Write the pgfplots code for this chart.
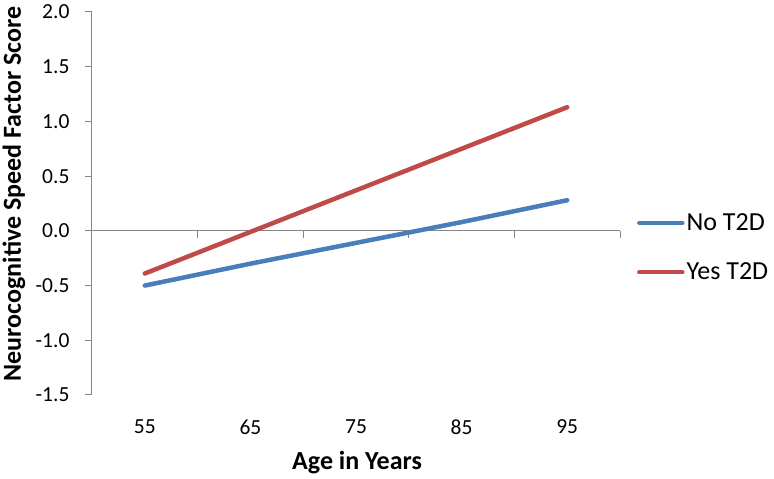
\documentclass[border=0pt]{standalone}
\usepackage{pgfplots}
\pgfplotsset{compat=1.18}
\usepackage{fontspec}
\setmainfont{Carlito}
\definecolor{sblue}{RGB}{74,126,187}
\definecolor{sred}{RGB}{190,75,72}
\definecolor{axgray}{RGB}{134,134,134}
\begin{document}
\begin{tikzpicture}
\path[use as bounding box] (-92pt,-84pt) rectangle (682pt,395pt);
\begin{axis}[
  scale only axis,
  width=528pt, height=383pt,
  xmin=50, xmax=100, ymin=-1.5, ymax=2.0,
  axis y line*=left,
  axis x line*=bottom,
  x axis line style={draw=none},
  y axis line style={axgray, line width=1pt},
  xtick={55,65,75,85,95},
  xticklabels={55,65,75,85,95},
  xtick style={draw=none},
  ytick={-1.5,-1.0,-0.5,0,0.5,1.0,1.5,2.0},
  yticklabels={-1.5,-1.0,-0.5,0.0,0.5,1.0,1.5,2.0},
  ytick style={axgray, line width=1pt},
  tick align=outside,
  major tick length=7pt,
  tick label style={font=\fontsize{21.5}{25}\selectfont, black},
  yticklabel style={xshift=-12pt},
  xticklabel style={yshift=-14pt},
  xlabel={\textbf{Age in Years}},
  ylabel={\textbf{Neurocognitive Speed Factor Score}},
  label style={font=\fontsize{26}{30}\selectfont},
  xlabel style={at={(axis description cs:0.502,-0.1775)}, anchor=center},
  ylabel style={at={(axis description cs:-0.1477,0.525)}, anchor=center, rotate=0},
  clip=false,
  legend style={at={(axis description cs:1.032,0.385)}, anchor=west, draw=none, fill=none,
    font=\fontsize{26}{30}\selectfont, inner sep=0pt, row sep=27pt,
    nodes={inner sep=2pt}},
  legend cell align=left,
  legend image code/.code={\draw[#1] (0pt,0pt) -- (43pt,0pt);},
]
\draw[axgray, line width=1pt] (axis cs:50,0) -- (axis cs:100,0);
\draw[axgray, line width=1pt] (axis cs:60,0) -- ++(0pt,-7pt);
\draw[axgray, line width=1pt] (axis cs:70,0) -- ++(0pt,-7pt);
\draw[axgray, line width=1pt] (axis cs:80,0) -- ++(0pt,-7pt);
\draw[axgray, line width=1pt] (axis cs:90,0) -- ++(0pt,-7pt);
\draw[axgray, line width=1pt] (axis cs:100,0) -- ++(0pt,-7pt);
\addplot[sblue, line width=4.5pt, line cap=round] coordinates {(55,-0.50) (65,-0.30) (75,-0.11) (85,0.08) (95,0.28)};
\addlegendentry{No T2D}
\addplot[sred, line width=4.5pt, line cap=round] coordinates {(55,-0.39) (65,-0.01) (75,0.37) (85,0.75) (95,1.13)};
\addlegendentry{Yes T2D}
\end{axis}
\end{tikzpicture}
\end{document}
